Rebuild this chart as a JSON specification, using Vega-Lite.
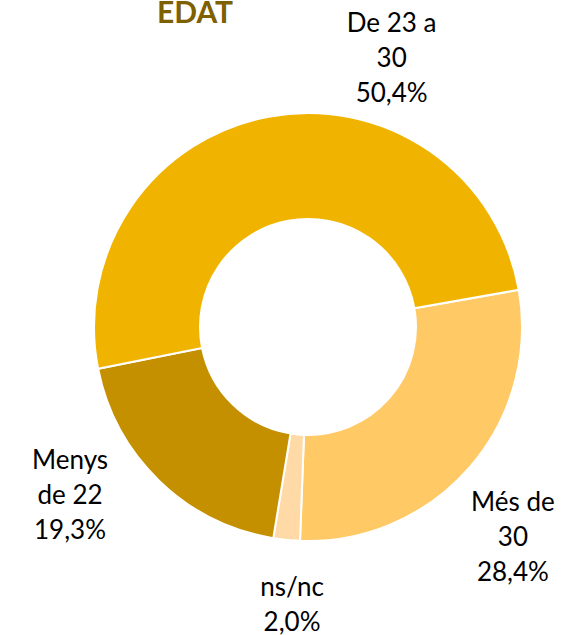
{
  "$schema": "https://vega.github.io/schema/vega-lite/v6.json",
  "width": 508,
  "height": 616,
  "autosize": {"type": "none"},
  "padding": {"left": 54, "top": 19, "right": 0, "bottom": 0},
  "background": "white",
  "view": {"stroke": null},
  "title": {
    "text": "EDAT",
    "anchor": "start",
    "frame": "group",
    "dx": 103,
    "offset": -42,
    "baseline": "alphabetic",
    "font": "Lato",
    "fontSize": 30,
    "fontWeight": "bold",
    "color": "#7F6000"
  },
  "data": {
    "values": [
      {"edat": "Més de 30", "etiqueta": "Més de\n30", "pct": 28.4},
      {"edat": "ns/nc", "etiqueta": "ns/nc", "pct": 2.0},
      {"edat": "Menys de 22", "etiqueta": "Menys\nde 22", "pct": 19.3},
      {"edat": "De 23 a 30", "etiqueta": "De 23 a\n30", "pct": 50.4}
    ]
  },
  "transform": [
    {"stack": "pct", "groupby": [], "as": ["v0", "v1"]},
    {"calculate": "(datum.v0 + datum.v1) / 2", "as": "mig"},
    {"calculate": "datum.etiqueta + '\\n' + replace(format(datum.pct, '.1f'), '.', ',') + '%'", "as": "text"}
  ],
  "resolve": {"scale": {"theta": "shared"}},
  "layer": [
    {
      "mark": {"type": "arc", "outerRadius": 214, "innerRadius": 108, "stroke": "white", "strokeWidth": 2},
      "encoding": {
        "theta": {"field": "v0", "type": "quantitative", "scale": {"domain": [0, 100.1], "range": [1.3963, 7.6794]}},
        "theta2": {"field": "v1"},
        "color": {
          "field": "edat",
          "type": "nominal",
          "scale": {
            "domain": ["De 23 a 30", "Més de 30", "ns/nc", "Menys de 22"],
            "range": ["#F0B400", "#FFC966", "#FFDAA6", "#C49000"]
          },
          "legend": null
        }
      }
    },
    {
      "transform": [{"filter": "datum.edat === 'De 23 a 30'"}],
      "mark": {"type": "text", "radius": 273, "dx": 134, "dy": -35, "align": "center", "baseline": "middle", "lineBreak": "\n", "font": "Lato", "fontSize": 26, "lineHeight": 35, "color": "#000000"},
      "encoding": {
        "theta": {"field": "mig", "type": "quantitative"},
        "text": {"field": "text"}
      }
    },
    {
      "transform": [{"filter": "datum.edat === 'Més de 30'"}],
      "mark": {"type": "text", "radius": 293, "dx": -16, "dy": -16, "align": "center", "baseline": "middle", "lineBreak": "\n", "font": "Lato", "fontSize": 26, "lineHeight": 35, "color": "#000000"},
      "encoding": {
        "theta": {"field": "mig", "type": "quantitative"},
        "text": {"field": "text"}
      }
    },
    {
      "transform": [{"filter": "datum.edat === 'ns/nc'"}],
      "mark": {"type": "text", "radius": 280, "dx": 12, "dy": -18, "align": "center", "baseline": "middle", "lineBreak": "\n", "font": "Lato", "fontSize": 26, "lineHeight": 35, "color": "#000000"},
      "encoding": {
        "theta": {"field": "mig", "type": "quantitative"},
        "text": {"field": "text"}
      }
    },
    {
      "transform": [{"filter": "datum.edat === 'Menys de 22'"}],
      "mark": {"type": "text", "radius": 292, "dx": -35, "dy": -76, "align": "center", "baseline": "middle", "lineBreak": "\n", "font": "Lato", "fontSize": 26, "lineHeight": 35, "color": "#000000"},
      "encoding": {
        "theta": {"field": "mig", "type": "quantitative"},
        "text": {"field": "text"}
      }
    }
  ]
}
